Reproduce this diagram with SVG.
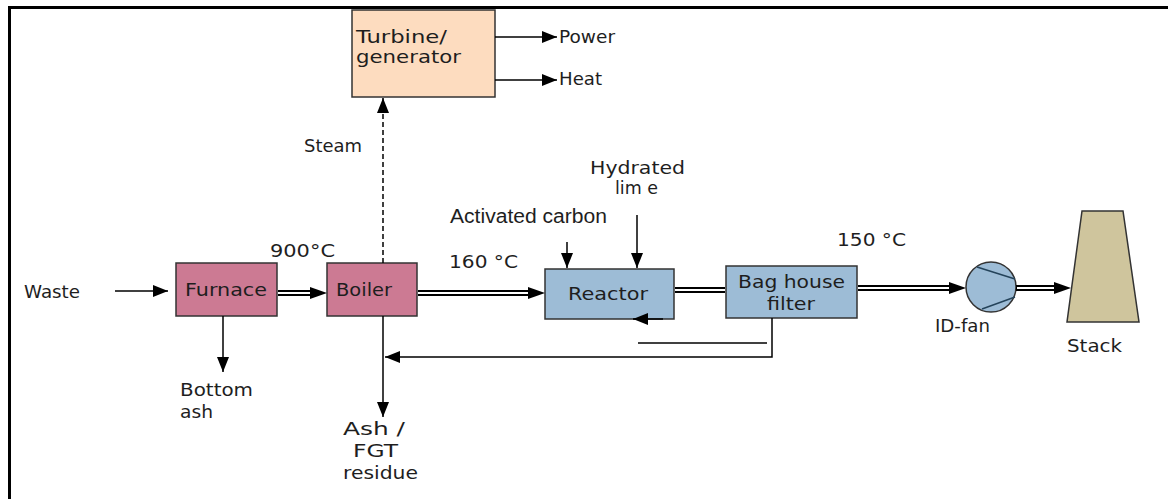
<svg xmlns="http://www.w3.org/2000/svg" width="1168" height="499" viewBox="0 0 1168 499">
<style>
text{font-family:"DejaVu Sans",Verdana,sans-serif;font-size:18px;fill:#1e1e1e}
.ac{font-family:"Liberation Sans",Arial,sans-serif;font-size:20px}
.box{stroke:#333;stroke-width:1.5}
.pink{fill:#cc7a93}
.blue{fill:#9dbcd6}
.line{stroke:#000;stroke-width:1.5;fill:none}
.dbl{stroke:#000;stroke-width:6;fill:none}
.gap{stroke:#fff;stroke-width:2;fill:none}
.head{fill:#000}
</style>
<defs>
<marker id="arr" markerUnits="userSpaceOnUse" markerWidth="15" markerHeight="12" refX="15" refY="6" orient="auto">
<path d="M0,0 L15,6 L0,12 z" fill="#000"/>
</marker>
</defs>
<rect width="1168" height="499" fill="#fff"/>
<g id="border" stroke="#000" stroke-width="3" fill="none">
<path d="M9.5,499 L9.5,7.5 L1168,7.5"/>
</g>
<g id="turbine">
<rect class="box" x="352" y="10" width="143" height="87" fill="#fddcbf"/>
<text x="356" y="43" textLength="91" lengthAdjust="spacingAndGlyphs">Turbine/</text>
<text x="356" y="63" textLength="105" lengthAdjust="spacingAndGlyphs">generator</text>
</g>
<g id="furnace">
<rect class="box pink" x="176" y="263" width="101" height="53"/>
<text x="185" y="296" textLength="82" lengthAdjust="spacingAndGlyphs">Furnace</text>
</g>
<g id="boiler">
<rect class="box pink" x="327" y="263" width="90" height="53"/>
<text x="336" y="296" textLength="56" lengthAdjust="spacingAndGlyphs">Boiler</text>
</g>
<g id="reactor">
<rect class="box blue" x="545" y="269" width="129" height="50"/>
<text x="568" y="300" textLength="80" lengthAdjust="spacingAndGlyphs">Reactor</text>
</g>
<g id="baghouse">
<rect class="box blue" x="726" y="266" width="131" height="52"/>
<text x="738" y="288" textLength="107" lengthAdjust="spacingAndGlyphs">Bag house</text>
<text x="767" y="310" textLength="48" lengthAdjust="spacingAndGlyphs">filter</text>
</g>
<g id="idfan">
<circle class="box blue" cx="991" cy="287" r="25"/>
<line stroke="#24435a" stroke-width="1.5" x1="977" y1="267" x2="1015" y2="279"/>
<line stroke="#24435a" stroke-width="1.5" x1="982" y1="309" x2="1015" y2="297"/>
<text x="935" y="332" textLength="55" lengthAdjust="spacingAndGlyphs">ID-fan</text>
</g>
<g id="stack">
<path class="box" d="M1082,211 L1123,211 L1139,322 L1067,322 z" fill="#cfc59d"/>
<text x="1067" y="352" textLength="55" lengthAdjust="spacingAndGlyphs">Stack</text>
</g>
<g id="connectors">
<line class="line" x1="115" y1="291" x2="168" y2="291" marker-end="url(#arr)"/>
<line class="line" x1="223" y1="316" x2="223" y2="372" marker-end="url(#arr)"/>
<line class="line" x1="383" y1="316" x2="383" y2="417" marker-end="url(#arr)"/>
<polyline class="line" points="772,318 772,357 385,357" marker-end="url(#arr)"/>
<line class="line" x1="638" y1="343" x2="767" y2="343"/>
<line class="line" x1="663" y1="319" x2="633" y2="319" marker-end="url(#arr)"/>
<line class="line" x1="567" y1="242" x2="567" y2="268" marker-end="url(#arr)"/>
<line class="line" x1="637" y1="215" x2="637" y2="268" marker-end="url(#arr)"/>
<line class="line" x1="383" y1="263" x2="383" y2="98" stroke-dasharray="5,3" marker-end="url(#arr)"/>
<line class="line" x1="495" y1="37" x2="557" y2="37" marker-end="url(#arr)"/>
<line class="line" x1="495" y1="80" x2="557" y2="80" marker-end="url(#arr)"/>
<line class="dbl" x1="278" y1="293" x2="311" y2="293"/>
<line class="gap" x1="278" y1="293" x2="311" y2="293"/>
<path class="head" d="M310,287 L327,293 L310,299 z"/>
<line class="dbl" x1="418" y1="293" x2="529" y2="293"/>
<line class="gap" x1="418" y1="293" x2="529" y2="293"/>
<path class="head" d="M528,287 L545,293 L528,299 z"/>
<line class="dbl" x1="675" y1="290" x2="725" y2="290"/>
<line class="gap" x1="675" y1="290" x2="725" y2="290"/>
<line class="dbl" x1="858" y1="288" x2="950" y2="288"/>
<line class="gap" x1="858" y1="288" x2="950" y2="288"/>
<path class="head" d="M949,282 L966,288 L949,294 z"/>
<line class="dbl" x1="1016" y1="288" x2="1055" y2="288"/>
<line class="gap" x1="1017" y1="288" x2="1055" y2="288"/>
<path class="head" d="M1054,282 L1071,288 L1054,294 z"/>
</g>
<g id="labels">
<text x="24" y="298" textLength="56" lengthAdjust="spacingAndGlyphs">Waste</text>
<text x="270" y="257" textLength="65" lengthAdjust="spacingAndGlyphs">900°C</text>
<text x="449" y="268" textLength="69" lengthAdjust="spacingAndGlyphs">160 °C</text>
<text class="ac" x="450" y="223" textLength="157" lengthAdjust="spacingAndGlyphs">Activated carbon</text>
<text x="590" y="174" textLength="95" lengthAdjust="spacingAndGlyphs">Hydrated</text>
<text x="615" y="194" textLength="43" lengthAdjust="spacingAndGlyphs">lim e</text>
<text x="837" y="246" textLength="69" lengthAdjust="spacingAndGlyphs">150 °C</text>
<text x="180" y="396" textLength="73" lengthAdjust="spacingAndGlyphs">Bottom</text>
<text x="180" y="418" textLength="33" lengthAdjust="spacingAndGlyphs">ash</text>
<text x="343" y="435" textLength="62" lengthAdjust="spacingAndGlyphs">Ash /</text>
<text x="353" y="457" textLength="45" lengthAdjust="spacingAndGlyphs">FGT</text>
<text x="343" y="479" textLength="75" lengthAdjust="spacingAndGlyphs">residue</text>
<text x="304" y="152" textLength="58" lengthAdjust="spacingAndGlyphs">Steam</text>
<text x="559" y="43" textLength="56" lengthAdjust="spacingAndGlyphs">Power</text>
<text x="559" y="85" textLength="43" lengthAdjust="spacingAndGlyphs">Heat</text>
</g>
</svg>
